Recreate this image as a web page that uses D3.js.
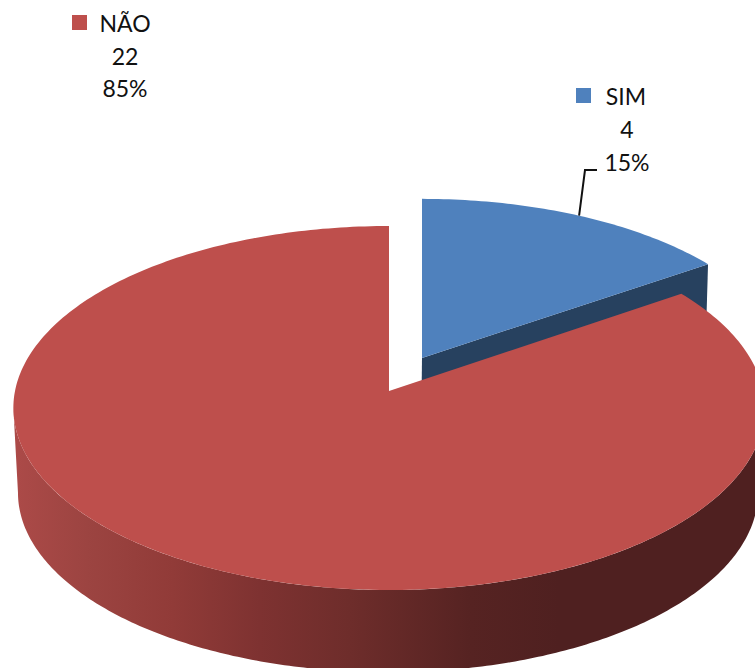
<!DOCTYPE html>
<html>
<head>
<meta charset="utf-8">
<script src="https://d3js.org/d3.v7.min.js"></script>
<style>
html,body{margin:0;padding:0;background:#fff;overflow:hidden}
svg{display:block}
text{font-family:Lato,"Noto Sans",sans-serif;fill:#111;text-anchor:middle}
</style>
</head>
<body>
<svg id="c" width="755" height="668"></svg>
<script>
// data
const categories = ["SIM", "NÃO"];
const values = [4, 22];
const percentLabels = ["15%", "85%"];
const topColors = ["#4F81BD", "#BE4F4C"];
const blueWallColor = "#27415F";
// wall shading, read across the picture
const wallX = [14, 87, 173, 260, 350, 470, 560, 760];
const wallColors = ["#AC4A48", "#9C4441", "#913B38", "#7E3231", "#6E2D2B", "#562322", "#4F2020", "#4F2020"];

// projection of a slice disc (perspective tilted ellipse)
const K = 0.0934;
const redTop = {cx: 389, cy: 391, rx: 374, ry: 180.4};
const redBot = {cx: 388, cy: 476, rx: 368.4, ry: 178};
const blueTop = {cx: 422, cy: 358, rx: 366, ry: 174};
const blueBot = {cx: 421, cy: 443, rx: 364, ry: 172};
const proj = (a, P) => {
  const u = Math.sin(a), v = Math.cos(a), w = 1 + K * v;
  return [P.cx + P.rx * u / w, P.cy - P.ry * v / w];
};
const arcs = d3.pie().sort(null)(values);
const [blue, red] = arcs;
const svg = d3.select("#c");
const line = d3.line();
const samples = (a0, a1, n) => d3.range(n + 1).map(i => a0 + (a1 - a0) * i / n);

// horizontal shading for the red wall
const grad = svg.append("defs").append("linearGradient").attr("id", "wall")
  .attr("gradientUnits", "userSpaceOnUse")
  .attr("x1", wallX[0]).attr("x2", wallX[wallX.length - 1]).attr("y1", 0).attr("y2", 0);
const stopScale = d3.scaleLinear().domain(d3.extent(wallX)).range([0, 1]);
wallX.forEach((x, i) => grad.append("stop").attr("offset", stopScale(x)).attr("stop-color", wallColors[i]));

// blue cut-face wall
svg.append("path").attr("fill", blueWallColor).attr("d", line([
  [blueTop.cx, blueTop.cy], proj(blue.endAngle, blueTop),
  proj(blue.endAngle, blueBot), [blueBot.cx, blueBot.cy]
]) + "Z");
// blue top
svg.append("path").attr("fill", topColors[0]).attr("d",
  line([[blueTop.cx, blueTop.cy], ...samples(blue.startAngle, blue.endAngle, 60).map(a => proj(a, blueTop))]) + "Z");

// red outer wall, between the two tangent points of the projected disc
const tangent = Math.acos(-K);
const wallAngles = samples(tangent, 2 * Math.PI - tangent, 240);
svg.append("path").attr("fill", "url(#wall)").attr("d", line([
  ...wallAngles.map(a => proj(a, redTop)),
  ...wallAngles.slice().reverse().map(a => proj(a, redBot))
]) + "Z");
// red top
svg.append("path").attr("fill", topColors[1]).attr("d",
  line([[redTop.cx, redTop.cy], ...samples(red.startAngle, red.endAngle, 300).map(a => proj(a, redTop))]) + "Z");

// leader line from the blue slice to its label
const mid = (blue.startAngle + blue.endAngle) / 2;
const start = proj(mid, blueTop);
svg.append("path").attr("fill", "none").attr("stroke", "#111").attr("stroke-width", 2)
  .attr("d", line([start, [585, 170], [597, 170]]));

// labels
const labelLayout = [
  {sq: [576, 88], x: 627, nameX: 626, base: [105, 138, 171]},
  {sq: [72, 15], x: 125, nameX: 125, base: [32, 65, 97]}
];
categories.forEach((name, i) => {
  const L = labelLayout[i];
  svg.append("rect").attr("x", L.sq[0]).attr("y", L.sq[1]).attr("width", 15).attr("height", 15).attr("fill", topColors[i]);
  const fs = 23;
  svg.append("text").attr("x", L.nameX).attr("y", L.base[0]).attr("font-size", fs).text(name);
  svg.append("text").attr("x", L.x).attr("y", L.base[1]).attr("font-size", fs).text(values[i]);
  svg.append("text").attr("x", L.x).attr("y", L.base[2]).attr("font-size", fs).text(percentLabels[i]);
});
</script>
</body>
</html>
